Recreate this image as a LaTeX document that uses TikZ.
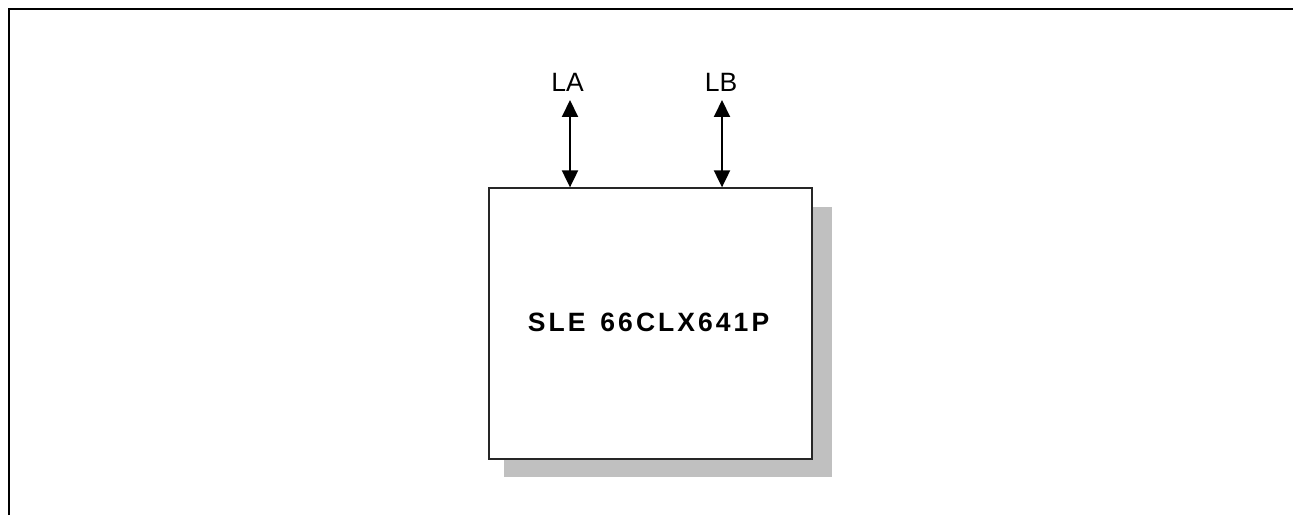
\documentclass[tikz,border=0pt]{standalone}
\usepackage{fontspec}
\setmainfont{Liberation Sans}
\newfontfamily\chipfont[LetterSpace=11.5]{Liberation Sans}
\usetikzlibrary{arrows.meta}
\definecolor{shadowgray}{HTML}{C0C0C0}
\tikzset{
  frameline/.style={line width=2.4pt, black},
  chipbox/.style={draw=black!85, line width=1.3pt, fill=white, minimum width=323pt, minimum height=271pt, inner sep=0pt},
  chiplabel/.style={inner sep=0pt, font=\chipfont\bfseries\fontsize{26.5}{29}\selectfont},
  portlabel/.style={inner sep=0pt, font=\fontsize{26.5}{29}\selectfont},
  portarrow/.style={line width=2pt, {Triangle[width=16pt,length=17pt]}-{Triangle[width=16pt,length=17pt]}}
}
\begin{document}
\begin{tikzpicture}[x=1pt,y=1pt]
\useasboundingbox (0,0) rectangle (1293,515);
\draw[frameline] (9,0) -- (9,506) -- (1293,506);
\fill[shadowgray] (504,38) rectangle (832,308);
\node[chipbox] (chip) at (650.5,191.5) {};
\node[chiplabel] (chiptext) at (648.5,193) {SLE\hspace{15pt}66CLX641P};
\node[portlabel] (la) at (567.5,433) {LA};
\node[portlabel] (lb) at (721,433) {LB};
\coordinate (laT) at (570,415);
\coordinate (lbT) at (722,415);
\draw[portarrow] (laT) -- (chip.north -| laT);
\draw[portarrow] (lbT) -- (chip.north -| lbT);
\end{tikzpicture}
\end{document}
